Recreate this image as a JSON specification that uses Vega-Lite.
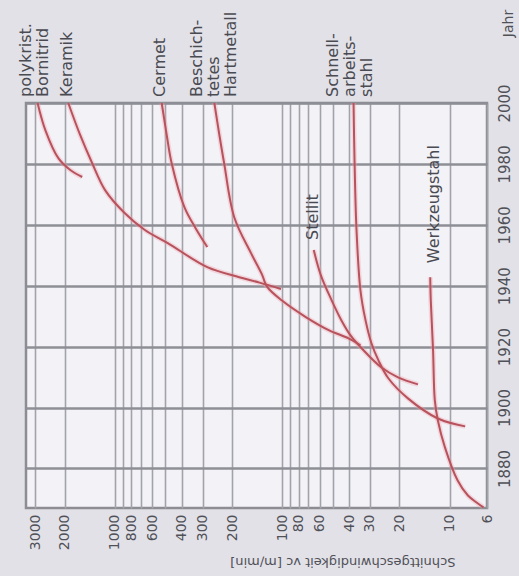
{
  "$schema": "https://vega.github.io/schema/vega-lite/v6.json",
  "autosize": {"type": "none"},
  "padding": {"left": 26, "top": 103, "right": 32, "bottom": 68},
  "width": 461,
  "height": 405,
  "background": "#e1e1e7",
  "config": {
    "font": "DejaVu Sans",
    "view": {"fill": "#f2f2f7", "stroke": "#8c8c92", "strokeWidth": 2.5}
  },
  "datasets": {
    "curves": [
      {"curve": "PCBN", "v": 2900, "year": 2000},
      {"curve": "PCBN", "v": 2606, "year": 1991.1},
      {"curve": "PCBN", "v": 2180, "year": 1981.9},
      {"curve": "PCBN", "v": 1849, "year": 1978},
      {"curve": "PCBN", "v": 1570, "year": 1975.7},
      {"curve": "Keramik", "v": 1901, "year": 2000},
      {"curve": "Keramik", "v": 1615, "year": 1989.5},
      {"curve": "Keramik", "v": 1370, "year": 1980.3},
      {"curve": "Keramik", "v": 1146, "year": 1971.4},
      {"curve": "Keramik", "v": 873, "year": 1963.8},
      {"curve": "Keramik", "v": 663, "year": 1958.3},
      {"curve": "Keramik", "v": 484, "year": 1954},
      {"curve": "Keramik", "v": 281, "year": 1946.1},
      {"curve": "Keramik", "v": 181, "year": 1942.8},
      {"curve": "Keramik", "v": 137, "year": 1941},
      {"curve": "Keramik", "v": 102, "year": 1938.9},
      {"curve": "Cermet", "v": 526, "year": 2000},
      {"curve": "Cermet", "v": 491, "year": 1989.5},
      {"curve": "Cermet", "v": 459, "year": 1980.3},
      {"curve": "Cermet", "v": 385, "year": 1965.8},
      {"curve": "Cermet", "v": 330, "year": 1958.9},
      {"curve": "Cermet", "v": 281, "year": 1952.7},
      {"curve": "Hartmetall", "v": 255, "year": 2000},
      {"curve": "Hartmetall", "v": 238, "year": 1989.5},
      {"curve": "Hartmetall", "v": 223, "year": 1980.3},
      {"curve": "Hartmetall", "v": 194, "year": 1962.5},
      {"curve": "Hartmetall", "v": 154, "year": 1950.7},
      {"curve": "Hartmetall", "v": 132, "year": 1943.5},
      {"curve": "Hartmetall", "v": 124, "year": 1939.8},
      {"curve": "Hartmetall", "v": 101, "year": 1935.2},
      {"curve": "Hartmetall", "v": 72.5, "year": 1929.7},
      {"curve": "Hartmetall", "v": 52.9, "year": 1925.4},
      {"curve": "Hartmetall", "v": 40.3, "year": 1922.7},
      {"curve": "Hartmetall", "v": 34.2, "year": 1920.4},
      {"curve": "Stellit", "v": 65, "year": 1951.7},
      {"curve": "Stellit", "v": 59, "year": 1943.5},
      {"curve": "Stellit", "v": 50.8, "year": 1935.2},
      {"curve": "Stellit", "v": 44.4, "year": 1928.6},
      {"curve": "Stellit", "v": 39.2, "year": 1923.7},
      {"curve": "Stellit", "v": 32.8, "year": 1918.8},
      {"curve": "Stellit", "v": 25.7, "year": 1913.2},
      {"curve": "Stellit", "v": 20.4, "year": 1909.9},
      {"curve": "Stellit", "v": 15.5, "year": 1907.6},
      {"curve": "HSS", "v": 37.6, "year": 2000},
      {"curve": "HSS", "v": 37.1, "year": 1981.3},
      {"curve": "HSS", "v": 36.1, "year": 1958.3},
      {"curve": "HSS", "v": 34.2, "year": 1938.5},
      {"curve": "HSS", "v": 31.9, "year": 1928.7},
      {"curve": "HSS", "v": 29.4, "year": 1921.1},
      {"curve": "HSS", "v": 26.7, "year": 1915.5},
      {"curve": "HSS", "v": 23.3, "year": 1909.6},
      {"curve": "HSS", "v": 17.8, "year": 1903},
      {"curve": "HSS", "v": 11.8, "year": 1896.4},
      {"curve": "HSS", "v": 8.1, "year": 1893.8},
      {"curve": "Werkzeugstahl", "v": 13.1, "year": 1942.8},
      {"curve": "Werkzeugstahl", "v": 13.0, "year": 1935.2},
      {"curve": "Werkzeugstahl", "v": 12.6, "year": 1918.8},
      {"curve": "Werkzeugstahl", "v": 12.3, "year": 1902.4},
      {"curve": "Werkzeugstahl", "v": 11.8, "year": 1895.8},
      {"curve": "Werkzeugstahl", "v": 10.7, "year": 1886.9},
      {"curve": "Werkzeugstahl", "v": 9.0, "year": 1876.1},
      {"curve": "Werkzeugstahl", "v": 7.8, "year": 1871.1},
      {"curve": "Werkzeugstahl", "v": 6.8, "year": 1868.5},
      {"curve": "Werkzeugstahl", "v": 6.3, "year": 1867.2}
    ],
    "labels": [
      {"text": "polykrist.|Bornitrid", "v": 3821, "year": 2002},
      {"text": "Keramik", "v": 2145, "year": 2002},
      {"text": "Cermet", "v": 597, "year": 2002},
      {"text": "Beschich-|tetes|Hartmetall", "v": 359, "year": 2002},
      {"text": "Schnell-|arbeits-|stahl", "v": 55.3, "year": 2002},
      {"text": "Stellit", "v": 73.8, "year": 1955},
      {"text": "Werkzeugstahl", "v": 13.96, "year": 1947.4}
    ]
  },
  "layer": [
    {
      "data": {"name": "curves"},
      "mark": {"type": "line", "interpolate": "catmull-rom", "stroke": "#f2a4ac", "strokeWidth": 5, "opacity": 0.35},
      "encoding": {
        "x": {
          "field": "v", "type": "quantitative",
          "scale": {"type": "log", "domain": [6, 3400], "nice": false, "reverse": true},
          "axis": {
            "orient": "bottom",
            "values": [3000, 2000, 1000, 900, 800, 700, 600, 500, 400, 300, 200, 100, 90, 80, 70, 60, 50, 40, 30, 20, 10, 6],
            "format": "d",
            "labelExpr": "indexof([900,700,500,90,70,50], datum.value) >= 0 ? '' : datum.label",
            "grid": true, "gridColor": "#a2a2aa", "gridWidth": 1.6,
            "ticks": false, "domain": false,
            "labelAngle": 270, "labelAlign": "right", "labelBaseline": "middle",
            "labelPadding": 6, "labelFontSize": 14, "labelColor": "#505058",
            "labelFlush": false, "labelOverlap": false, "labelBound": false,
            "title": "Schnittgeschwindigkeit vc [m/min]",
            "titleAngle": 180, "titleX": 429, "titleY": 53,
            "titleAlign": "left", "titleBaseline": "middle",
            "titleFontSize": 13, "titleFontWeight": "normal", "titleColor": "#505058"
          }
        },
        "y": {
          "field": "year", "type": "quantitative",
          "scale": {"domain": [1867, 2000], "nice": false, "zero": false},
          "axis": {
            "orient": "right",
            "values": [1880, 1900, 1920, 1940, 1960, 1980, 2000],
            "format": "d",
            "grid": true, "gridColor": "#8e8e96", "gridWidth": 2.5,
            "ticks": false, "domain": false,
            "labelAngle": 270, "labelAlign": "center", "labelBaseline": "top",
            "labelPadding": 10, "labelFontSize": 15, "labelColor": "#505058",
            "labelFlush": false, "labelOverlap": false, "labelBound": false,
            "title": "Jahr",
            "titleAngle": 270, "titleX": 21, "titleY": -80,
            "titleAlign": "center", "titleBaseline": "middle",
            "titleFontSize": 14, "titleFontWeight": "normal", "titleColor": "#505058"
          }
        },
        "detail": {"field": "curve", "type": "nominal"},
        "order": {"field": "year", "type": "quantitative"}
      }
    },
    {
      "data": {"name": "curves"},
      "mark": {"type": "line", "interpolate": "catmull-rom", "stroke": "#b8525c", "strokeWidth": 2},
      "encoding": {
        "x": {"field": "v", "type": "quantitative"},
        "y": {"field": "year", "type": "quantitative"},
        "detail": {"field": "curve", "type": "nominal"},
        "order": {"field": "year", "type": "quantitative"}
      }
    },
    {
      "data": {"name": "labels"},
      "mark": {"type": "text", "angle": 270, "align": "left", "baseline": "top", "lineBreak": "|", "lineHeight": 17, "fontSize": 16, "color": "#4a4a52"},
      "encoding": {
        "x": {"field": "v", "type": "quantitative"},
        "y": {"field": "year", "type": "quantitative"},
        "text": {"field": "text", "type": "nominal"}
      }
    }
  ]
}
